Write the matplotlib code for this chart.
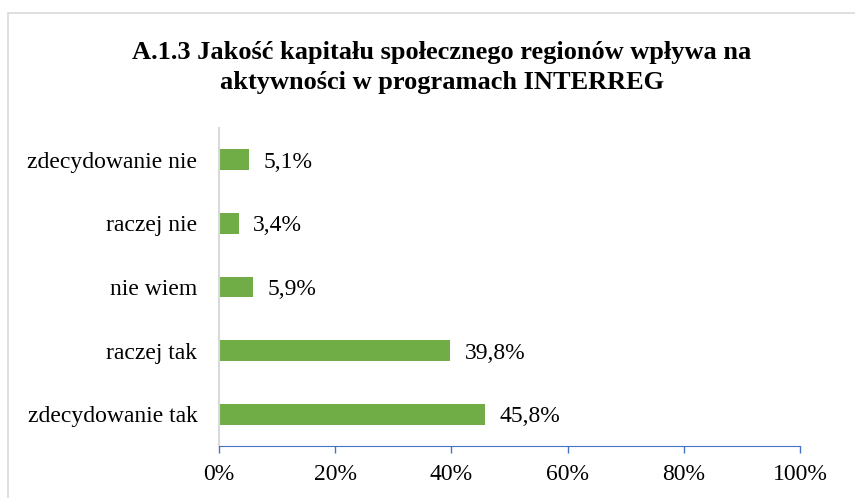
import matplotlib
matplotlib.use("Agg")
import matplotlib.pyplot as plt
from matplotlib.patches import Rectangle
from matplotlib.ticker import FuncFormatter

categories = ["zdecydowanie tak", "raczej tak", "nie wiem", "raczej nie", "zdecydowanie nie"]
values = [45.8, 39.8, 5.9, 3.4, 5.1]
xticks = [0, 20, 40, 60, 80, 100]
title = "A.1.3 Jakość kapitału społecznego regionów wpływa na\naktywności w programach INTERREG"

plt.rcParams['font.family'] = ['Liberation Serif', 'DejaVu Serif']

fig = plt.figure(figsize=(8.55, 4.98), dpi=100)
fig.patches.append(Rectangle((8/855, -10/498), 860/855, 495/498, transform=fig.transFigure,
                             fill=False, edgecolor='#D9D9D9', linewidth=1.2))
ax = fig.add_axes([219/855, 52/498, 581/855, 318/498])

y = range(len(categories))
ax.barh(y, values, height=0.33, color='#70AD47')
for yi, v in zip(y, values):
    ax.text(v + 2.5, yi, f"{v:.1f}%".replace('.', ','), va='center_baseline', ha='left', fontsize=17)

ax.set_xlim(0, 100)
ax.set_ylim(-0.5, len(categories) - 0.5)
ax.set_xticks(xticks)
ax.xaxis.set_major_formatter(FuncFormatter(lambda v, p: f"{int(v)}%"))
ax.set_yticks(list(y))
ax.set_yticklabels(categories)
ax.tick_params(axis='x', length=5, color='#4472C4', width=1, labelsize=17, pad=8)
ax.tick_params(axis='y', length=0, labelsize=17, pad=15.5)
for s in ['top', 'right']:
    ax.spines[s].set_visible(False)
ax.spines['bottom'].set_color('#4472C4')
ax.spines['left'].set_color('#D9D9D9')
ax.spines['left'].set_linewidth(1.5)

fig.text(0.517, 0.917, title, ha='center', va='top', fontsize=19, fontweight='bold', linespacing=1.36)

fig.savefig("out.png", dpi=100)
